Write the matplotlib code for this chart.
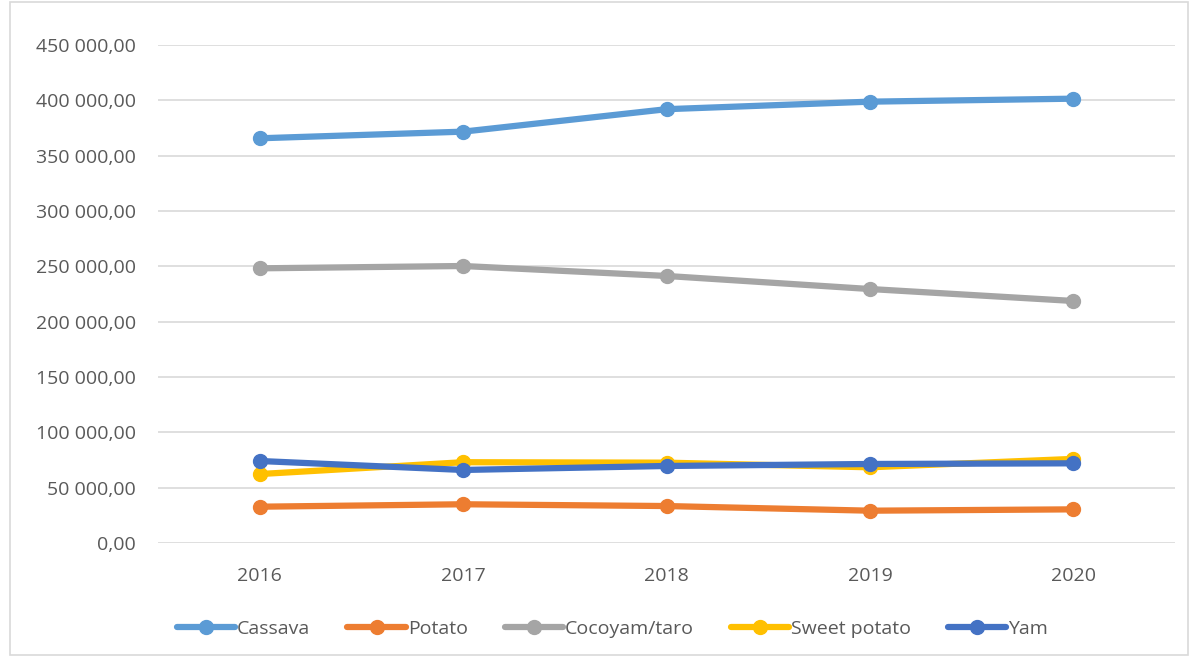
import matplotlib.pyplot as plt
from matplotlib.ticker import FuncFormatter, MultipleLocator
from matplotlib.patches import Rectangle

plt.rcParams['font.family'] = ['Open Sans', 'DejaVu Sans']

years = ["2016", "2017", "2018", "2019", "2020"]
cassava = [365700, 371700, 392000, 398800, 401500]
potato = [32800, 35000, 33400, 29200, 30400]
cocoyam = [248200, 250300, 241300, 229500, 218700]
sweet_potato = [62300, 73000, 72600, 68400, 76000]
yam = [74100, 66000, 69600, 71400, 72000]

series = [
    ("Cassava", cassava, "#5B9BD5"),
    ("Potato", potato, "#ED7D31"),
    ("Cocoyam/taro", cocoyam, "#A5A5A5"),
    ("Sweet potato", sweet_potato, "#FFC000"),
    ("Yam", yam, "#4472C4"),
]

def fmt(v, pos):
    s = f"{v:,.2f}".replace(",", " ").replace(".", ",")
    return s

fig = plt.figure(figsize=(11.9, 6.57), dpi=100)
ax = fig.add_axes([158 / 1190, 114 / 657, 1017 / 1190, 498 / 657])

x = range(len(years))
for name, vals, col in series:
    ax.plot(x, vals, color=col, linewidth=4.5, marker="o", markersize=10,
            label=name, solid_capstyle="round")

ax.set_xlim(-0.5, len(years) - 0.5)
ax.set_ylim(0, 450000)
ax.yaxis.set_major_locator(MultipleLocator(50000))
ax.yaxis.set_major_formatter(FuncFormatter(fmt))
ax.set_xticks(list(x))
ax.set_xticklabels(years)
ax.grid(axis="y", color="#D9D9D9", linewidth=1.2)
ax.set_axisbelow(True)
for sp in ax.spines.values():
    sp.set_visible(False)
ax.tick_params(axis="both", length=0, labelsize=14, colors="#595959")
ax.tick_params(axis="y", pad=16)
ax.tick_params(axis="x", pad=17)

ax.legend(loc="upper center", bbox_to_anchor=(0.447, -0.12), ncol=5,
          frameon=False, fontsize=14, labelcolor="#595959",
          handlelength=3, handletextpad=0.1, columnspacing=1.9)

fig.patches.append(Rectangle((10 / 1190, 2 / 657), 1178 / 1190, 653 / 657,
                             transform=fig.transFigure, fill=False,
                             edgecolor="#D9D9D9", linewidth=1.2))

fig.savefig("out.png", dpi=100)
